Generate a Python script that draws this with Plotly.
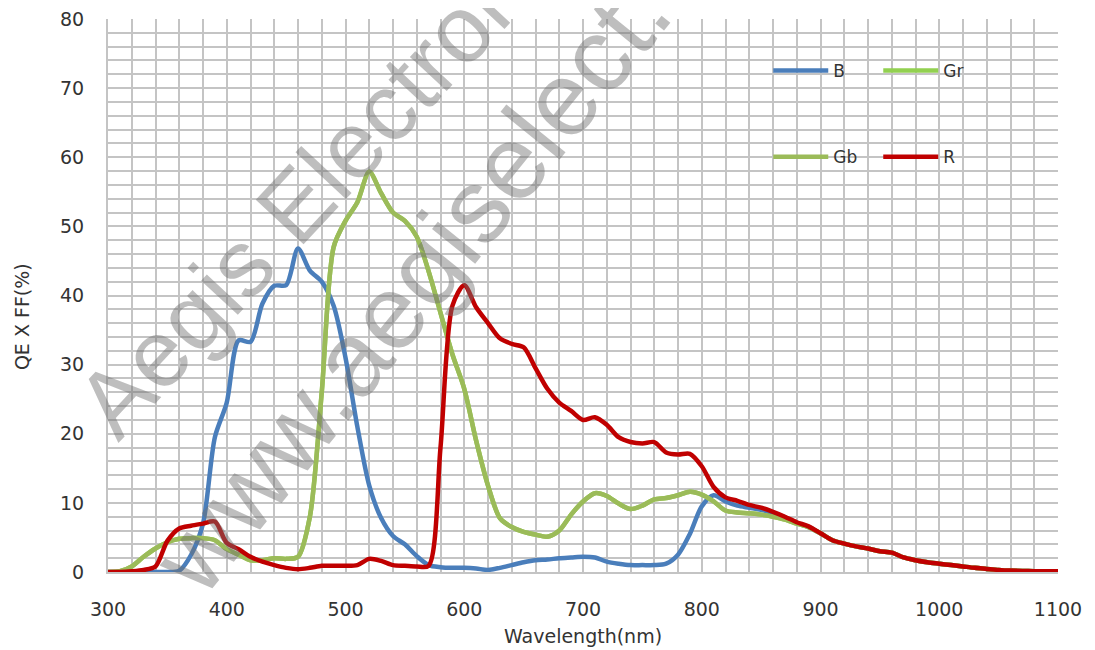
import plotly.graph_objects as go

wavelength = list(range(300, 1101, 10))

b_values = [0, 0, 0, 0, 0, 0, 0.2, 2.5, 7, 19.5,
            24.5, 33.5, 33.3, 38.8, 41.4, 41.5, 46.8, 43.6, 42, 38.5,
            31, 21, 12.5, 7.8, 5.2, 4, 2.3, 1, 0.7, 0.6,
            0.6, 0.5, 0.3, 0.6, 1, 1.4, 1.7, 1.8, 2, 2.1,
            2.2, 2.1, 1.5, 1.2, 1, 1, 1, 1.2, 2.5, 5.5,
            9.5, 11.1, 10.2, 9.6, 9.3, 9.0, 8.5, 7.9, 7.1, 6.5,
            5.6, 4.6, 4.1, 3.7, 3.4, 3.0, 2.8, 2.1, 1.7, 1.4,
            1.2, 1.0, 0.8, 0.6, 0.45, 0.3, 0.2, 0.15, 0.12, 0.1,
            0.1]

gr_values = [0, 0.1, 0.8, 2.2, 3.4, 4.3, 4.8, 4.9, 4.9, 4.6,
             3.3, 2.5, 1.7, 1.7, 2, 1.9, 2.2, 8, 26, 47,
             50.8, 53.5, 57.9, 54.8, 52, 50.8, 48.5, 43.5, 37.5, 31.5,
             26.5, 19, 12.5, 7.8, 6.5, 5.8, 5.4, 5.1, 6, 8.3,
             10.2, 11.4, 11, 9.9, 9.1, 9.6, 10.5, 10.7, 11.1, 11.6,
             11.2, 10.2, 8.9, 8.6, 8.5, 8.3, 8.0, 7.6, 7.0, 6.5,
             5.6, 4.6, 4.1, 3.7, 3.4, 3.0, 2.8, 2.1, 1.7, 1.4,
             1.2, 1.0, 0.8, 0.6, 0.45, 0.3, 0.2, 0.15, 0.12, 0.1,
             0.1]

gb_values = [0, 0.1, 0.8, 2.2, 3.4, 4.3, 4.8, 4.9, 4.9, 4.6,
             3.3, 2.5, 1.7, 1.7, 2, 1.9, 2.2, 8, 26, 47,
             50.8, 53.5, 57.9, 54.8, 52, 50.8, 48.5, 43.5, 37.5, 31.5,
             26.5, 19, 12.5, 7.8, 6.5, 5.8, 5.4, 5.1, 6, 8.3,
             10.2, 11.4, 11, 9.9, 9.1, 9.6, 10.5, 10.7, 11.1, 11.6,
             11.2, 10.2, 8.9, 8.6, 8.5, 8.3, 8.0, 7.6, 7.0, 6.5,
             5.6, 4.6, 4.1, 3.7, 3.4, 3.0, 2.8, 2.1, 1.7, 1.4,
             1.2, 1.0, 0.8, 0.6, 0.45, 0.3, 0.2, 0.15, 0.12, 0.1,
             0.1]

r_values = [0, 0, 0.1, 0.3, 0.8, 4.5, 6.3, 6.7, 7, 7.3,
            4.2, 3.3, 2.2, 1.5, 1.0, 0.6, 0.4, 0.6, 0.9, 0.9,
            0.9, 1.0, 1.9, 1.6, 1.0, 0.9, 0.8, 0.9, 18, 38.5,
            41.5, 38.3, 36, 33.8, 33, 32.5, 29.5, 26.5, 24.5, 23.3,
            22, 22.4, 21.3, 19.5, 18.8, 18.6, 18.8, 17.3, 17.0, 17.1,
            15.3, 12.3, 10.8, 10.3, 9.7, 9.3, 8.7, 8.0, 7.2, 6.6,
            5.6, 4.6, 4.1, 3.7, 3.4, 3.0, 2.8, 2.1, 1.7, 1.4,
            1.2, 1.0, 0.8, 0.6, 0.45, 0.3, 0.2, 0.15, 0.12, 0.1,
            0.1]

series = [
    ("B", b_values, "#4A7EBB", "legend"),
    ("Gr", gr_values, "#92D050", "legend"),
    ("Gb", gb_values, "#9BBB59", "legend2"),
    ("R", r_values, "#C00000", "legend2"),
]

x_ticks = [300, 400, 500, 600, 700, 800, 900, 1000, 1100]
y_ticks = [0, 10, 20, 30, 40, 50, 60, 70, 80]

FONT = "DejaVu Sans"
GRID = "#C4C4C4"
TXT = "#333333"
WM = "rgba(110,110,110,0.45)"

fig = go.Figure()
for name, vals, color, leg in series:
    fig.add_trace(go.Scatter(
        x=wavelength, y=vals, name=name, mode="lines",
        line=dict(color=color, width=4.5, shape="spline", smoothing=0.8),
        legend=leg,
    ))

legend_common = dict(orientation="h", xanchor="left", yanchor="middle",
                     bgcolor="rgba(0,0,0,0)", itemwidth=55, entrywidth=40,
                     entrywidthmode="pixels", font=dict(size=17, family=FONT, color=TXT),
                     traceorder="normal")

# the page has an 8px body margin, so the figure is drawn 8px smaller
fig.update_layout(
    width=1087, height=642,
    margin=dict(l=100, r=37, t=11, b=78, autoexpand=False),
    paper_bgcolor="white", plot_bgcolor="white",
    font=dict(family=FONT, color=TXT, size=17),
    legend=dict(x=0.695, y=0.906, **legend_common),
    legend2=dict(x=0.695, y=0.750, **legend_common),
    xaxis=dict(range=[300, 1100], tickvals=x_ticks, showgrid=True, gridcolor=GRID, gridwidth=2,
               minor=dict(dtick=20, showgrid=True, gridcolor=GRID, gridwidth=2),
               showline=True, linecolor=GRID, linewidth=2, zeroline=False, automargin=False,
               ticks="", ticklabelstandoff=19, ticklabeloverflow="allow",
               tickfont=dict(family=FONT, size=19, color=TXT)),
    yaxis=dict(range=[0, 80], tickvals=y_ticks, showgrid=True, gridcolor=GRID, gridwidth=2,
               minor=dict(dtick=2, showgrid=True, gridcolor=GRID, gridwidth=2),
               showline=True, linecolor=GRID, linewidth=2, zeroline=False, automargin=False,
               ticks="", ticklabelstandoff=18, ticklabeloverflow="allow",
               tickfont=dict(family=FONT, size=19, color=TXT)),
    annotations=[
        dict(text="Wavelength(nm)", xref="paper", yref="paper", x=0.5, y=-0.1157,
             showarrow=False, xanchor="center", yanchor="middle",
             font=dict(family=FONT, size=19, color=TXT)),
        dict(text="QE X FF(%)", xref="paper", yref="paper", x=-0.0905, y=0.461,
             textangle=-90, showarrow=False, xanchor="center", yanchor="middle",
             font=dict(family=FONT, size=19, color=TXT)),
        dict(text="Aegis Electronic", xref="paper", yref="paper", x=0.2295, y=0.7233,
             textangle=-47, showarrow=False, xanchor="center", yanchor="middle",
             font=dict(family="Liberation Sans", size=95, color=WM)),
        dict(text="www.aegiselect.com", xref="paper", yref="paper", x=0.384, y=0.658,
             textangle=-51, showarrow=False, xanchor="center", yanchor="middle",
             font=dict(family="Liberation Sans", size=105, color=WM)),
    ],
)

fig.write_html("out.html")
